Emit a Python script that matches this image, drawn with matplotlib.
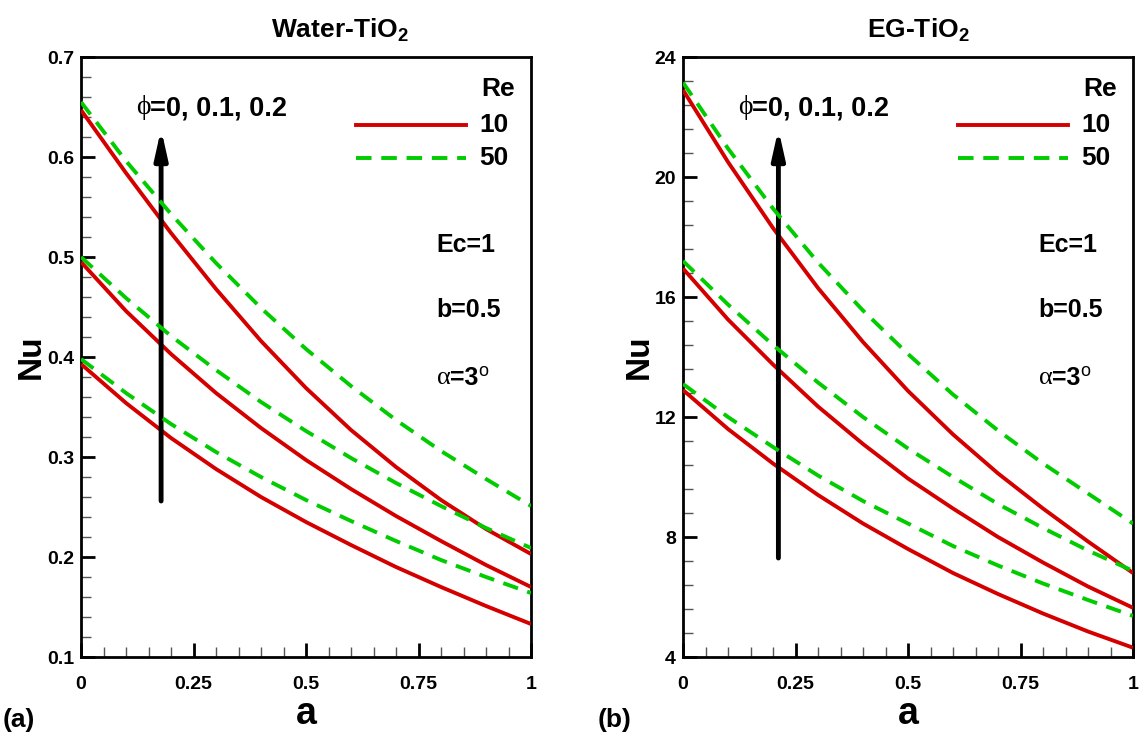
import matplotlib
matplotlib.use("Agg")
import matplotlib.pyplot as plt
from matplotlib.ticker import MultipleLocator

plt.rcParams['font.family'] = ['Liberation Sans', 'DejaVu Sans']
plt.rcParams['mathtext.fontset'] = 'custom'
plt.rcParams['mathtext.rm'] = 'Liberation Sans'
plt.rcParams['mathtext.bf'] = 'Liberation Sans:bold'

# ---------------- data ----------------
a_vals = [0.0, 0.1, 0.2, 0.3, 0.4, 0.5, 0.6, 0.7, 0.8, 0.9, 1.0]

# Water-TiO2, Re = 10 (phi = 0, 0.1, 0.2)
w_re10_phi0 = [0.393, 0.354, 0.319, 0.288, 0.260, 0.235, 0.212, 0.190, 0.170, 0.151, 0.133]
w_re10_phi1 = [0.495, 0.446, 0.403, 0.364, 0.329, 0.297, 0.268, 0.241, 0.216, 0.192, 0.170]
w_re10_phi2 = [0.647, 0.584, 0.524, 0.468, 0.416, 0.369, 0.327, 0.290, 0.257, 0.228, 0.203]
# Water-TiO2, Re = 50
w_re50_phi0 = [0.398, 0.364, 0.333, 0.305, 0.280, 0.257, 0.236, 0.216, 0.197, 0.180, 0.164]
w_re50_phi1 = [0.500, 0.459, 0.421, 0.387, 0.355, 0.326, 0.299, 0.274, 0.251, 0.229, 0.209]
w_re50_phi2 = [0.655, 0.596, 0.543, 0.494, 0.449, 0.408, 0.371, 0.337, 0.306, 0.278, 0.251]

# EG-TiO2, Re = 10
e_re10_phi0 = [12.9, 11.6, 10.45, 9.4, 8.45, 7.6, 6.8, 6.1, 5.45, 4.85, 4.31]
e_re10_phi1 = [16.95, 15.25, 13.75, 12.35, 11.1, 9.95, 8.95, 8.0, 7.15, 6.35, 5.64]
e_re10_phi2 = [22.9, 20.5, 18.3, 16.3, 14.5, 12.87, 11.42, 10.12, 8.95, 7.85, 6.8]
# EG-TiO2, Re = 50
e_re50_phi0 = [13.1, 12.0, 11.0, 10.05, 9.2, 8.45, 7.7, 7.05, 6.45, 5.9, 5.37]
e_re50_phi1 = [17.2, 15.75, 14.4, 13.15, 12.0, 10.95, 10.0, 9.1, 8.3, 7.55, 6.87]
e_re50_phi2 = [23.15, 20.95, 18.95, 17.15, 15.55, 14.1, 12.75, 11.55, 10.45, 9.45, 8.45]

x_ticks = [0, 0.25, 0.5, 0.75, 1]
x_tick_labels = ['0', '0.25', '0.5', '0.75', '1']
w_yticks = [0.1, 0.2, 0.3, 0.4, 0.5, 0.6, 0.7]
w_ytick_labels = ['0.1', '0.2', '0.3', '0.4', '0.5', '0.6', '0.7']
e_yticks = [4, 8, 12, 16, 20, 24]
e_ytick_labels = ['4', '8', '12', '16', '20', '24']
legend_labels = ['10', '50']

RED = '#d40000'
GREEN = '#00cc00'
LW = 2.8
DASH = (4.0, 2.5)

W, H = 1140, 740
fig = plt.figure(figsize=(11.4, 7.4), dpi=100)
axL = fig.add_axes([81/W, 1-657/H, 450/W, 600/H])
axR = fig.add_axes([683/W, 1-657/H, 450/W, 600/H])


def style_axes(ax, yticks, ylabels, yminor, ylim):
    ax.set_xlim(0, 1)
    ax.set_ylim(*ylim)
    ax.set_xticks(x_ticks)
    ax.set_xticklabels(x_tick_labels)
    ax.set_yticks(yticks)
    ax.set_yticklabels(ylabels)
    ax.xaxis.set_minor_locator(MultipleLocator(0.05))
    ax.yaxis.set_minor_locator(MultipleLocator(yminor))
    ax.tick_params(which='major', direction='in', length=10, width=2, color='black',
                   top=False, right=False, labelsize=14)
    ax.tick_params(axis='x', which='major', pad=14)
    ax.tick_params(axis='y', which='major', pad=5)
    ax.tick_params(which='minor', direction='in', length=7, width=1, color='#555555',
                   top=False, right=False)
    for lab in ax.get_xticklabels() + ax.get_yticklabels():
        lab.set_fontweight('bold')
    for sp in ax.spines.values():
        sp.set_linewidth(2)
    ax.set_xlabel('a', fontsize=27, fontweight='bold', labelpad=2)
    ax.set_ylabel('Nu', fontsize=24, fontweight='bold', labelpad=0)


def draw_curves(ax, reds, greens):
    for r in reds:
        ax.plot(a_vals, r, color=RED, lw=LW, solid_capstyle='butt', zorder=3)
    for g in greens:
        ax.plot(a_vals, g, color=GREEN, lw=LW, dashes=DASH, zorder=4)


def annotate(ax, arrow_x, arrow_y0, arrow_y1):
    tr = ax.transAxes
    # phi label
    t1 = ax.text(0.122, 0.915, '\u03d5', fontsize=20, family='Liberation Serif',
                 va='center', ha='left', transform=tr)
    ax.annotate('=0, 0.1, 0.2', xy=(1, 0.5), xycoords=t1, fontsize=19.5, fontweight='bold',
                va='center', ha='left')
    ax.annotate('', xy=(arrow_x, arrow_y1), xytext=(arrow_x, arrow_y0),
                arrowprops=dict(arrowstyle='-|>,head_width=0.38,head_length=1.7',
                                color='black', lw=3.5, shrinkA=0, shrinkB=0))
    # legend
    ax.text(0.965, 0.947, 'Re', transform=tr, fontsize=19, fontweight='bold',
            ha='right', va='center')
    ax.plot([0.61, 0.855], [0.887, 0.887], color=RED, lw=LW, transform=tr, clip_on=False)
    ax.plot([0.61, 0.855], [0.832, 0.832], color=GREEN, lw=LW, dashes=DASH,
            transform=tr, clip_on=False)
    ax.text(0.95, 0.887, legend_labels[0], transform=tr, fontsize=19,
            fontweight='bold', ha='right', va='center')
    ax.text(0.95, 0.832, legend_labels[1], transform=tr, fontsize=19,
            fontweight='bold', ha='right', va='center')
    # parameters
    ax.text(0.79, 0.687, 'Ec=1', transform=tr, fontsize=18, fontweight='bold',
            ha='left', va='center')
    ax.text(0.79, 0.578, 'b=0.5', transform=tr, fontsize=18, fontweight='bold',
            ha='left', va='center')
    t2 = ax.text(0.79, 0.465, '\u03b1', transform=tr, fontsize=19,
                 family='Liberation Serif', ha='left', va='center')
    t3 = ax.annotate('=3', xy=(1, 0.5), xycoords=t2, fontsize=18, fontweight='bold',
                     va='center', ha='left')
    ax.annotate('o', xy=(1, 0.75), xycoords=t3, fontsize=13,
                va='center', ha='left')


# left panel
draw_curves(axL, [w_re10_phi0, w_re10_phi1, w_re10_phi2],
            [w_re50_phi0, w_re50_phi1, w_re50_phi2])
style_axes(axL, w_yticks, w_ytick_labels, 0.02, (0.1, 0.7))
annotate(axL, 0.178, 0.256, 0.628)

# right panel
draw_curves(axR, [e_re10_phi0, e_re10_phi1, e_re10_phi2],
            [e_re50_phi0, e_re50_phi1, e_re50_phi2])
style_axes(axR, e_yticks, e_ytick_labels, 0.8, (4, 24))
annotate(axR, 0.212, 7.3, 21.6)

fig.text(340/W, 1-30/H, 'Water-TiO$_\\mathbf{2}$', fontsize=19, fontweight='bold',
         ha='center', va='center')
fig.text(918/W, 1-30/H, 'EG-TiO$_\\mathbf{2}$', fontsize=19, fontweight='bold',
         ha='center', va='center')

fig.text(3/W, 1-720/H, '(a)', fontsize=19, fontweight='bold', va='center', ha='left')
fig.text(598/W, 1-720/H, '(b)', fontsize=19, fontweight='bold', va='center', ha='left')

fig.savefig('out.png', dpi=100)
